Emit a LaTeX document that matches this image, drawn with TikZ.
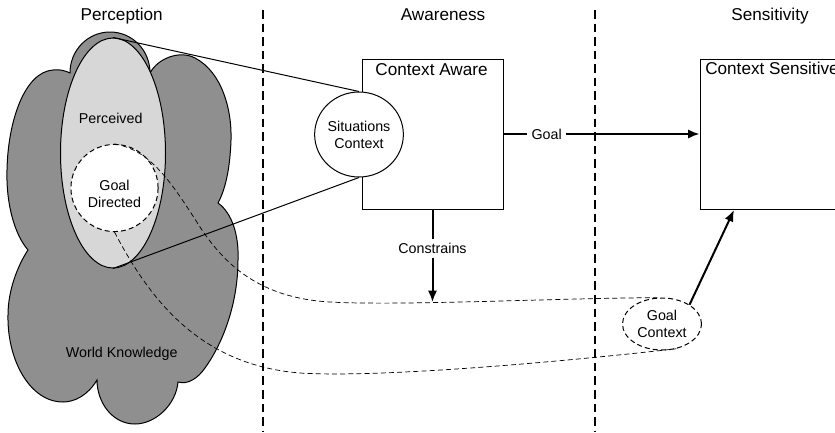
\documentclass[tikz,border=0pt]{standalone}
\usepackage{fontspec}
\setmainfont{Liberation Sans}
\usepackage{xcolor}
\usepackage{tikz}
\usetikzlibrary{shapes.geometric,arrows.meta}

\definecolor{cloudgray}{RGB}{143,143,143}
\definecolor{percgray}{RGB}{215,215,215}

\begin{document}
\begin{tikzpicture}[x=0.7pt,y=-0.7pt,
  hdr/.style={font=\fontsize{12}{14}\selectfont, anchor=base, inner sep=0pt},
  txt/.style={font=\fontsize{10}{12}\selectfont, align=center, inner sep=0pt},
  midtext/.style={font=\fontsize{10}{12}\selectfont, fill=white, inner sep=3pt},
  outline/.style={draw, line width=0.7pt, inner sep=0pt},
  boxnode/.style={outline, minimum width=98.7pt, minimum height=105pt},
  divider/.style={line width=1.1pt, dash pattern=on 6pt off 3.5pt},
  trace/.style={line width=0.5pt, dash pattern=on 3.5pt off 2.2pt},
  arr/.style={line width=1.4pt, -{Latex[length=8pt,width=6.5pt]}}]
\useasboundingbox (0,0) rectangle (835,432);
\clip (0,0) rectangle (835,432);

% world knowledge cloud
\draw[fill=cloudgray, line width=0.7pt] (70,73)
  .. controls (70,50) and (88,32) .. (110,32)
  .. controls (132,32) and (150,50) .. (150,73)
  .. controls (158,58) and (180,50) .. (195,58)
  .. controls (222,72) and (232,110) .. (231,140)
  .. controls (230,170) and (225,190) .. (218,203)
  .. controls (232,213) and (239,235) .. (238,260)
  .. controls (238,300) and (225,340) .. (205,368)
  .. controls (198,378) and (188,385) .. (178,382)
  .. controls (176,405) and (155,424) .. (135,424)
  .. controls (112,424) and (97,402) .. (97,380)
  .. controls (88,395) and (75,402) .. (63,402)
  .. controls (30,402) and (7,360) .. (8,315)
  .. controls (8,290) and (18,265) .. (28,250)
  .. controls (15,235) and (6,205) .. (7,170)
  .. controls (8,120) and (25,72) .. (53,70)
  .. controls (60,69) and (66,71) .. (70,73) -- cycle;

\node[outline, ellipse, fill=percgray, minimum width=73.5pt, minimum height=161pt] (perc) at (113,153) {};
\node[outline, circle, fill=white, dash pattern=on 3.5pt off 2.2pt, minimum size=61pt] (goaldir) at (114.5,188) {};

\node[txt, anchor=base] (perclbl) at (110.7,123.3) {Perceived};
\node[txt] (goaldirlbl) at (114.5,193.5) {Goal\\Directed};
\node[txt, anchor=base] (worldlbl) at (121.7,357) {World Knowledge};

% columns
\node[hdr] (tperc) at (121.7,20.7) {Perception};
\node[hdr] (taware) at (443,20.7) {Awareness};
\node[hdr] (tsens) at (770,20.7) {Sensitivity};

\draw[divider] (263,10) -- (263,432);
\draw[divider] (595,10) -- (595,432);

% awareness and sensitivity
\node[boxnode] (aware) at (432.5,134) {};
\node[hdr] (awarelbl) at (431.5,75) {Context Aware};
\node[outline, ellipse, fill=white, txt, minimum width=54.6pt, minimum height=59.5pt] (sit) at (359,134.5) {Situations\\Context};

\node[boxnode] (sens) at (770.5,134) {};
\node[hdr, anchor=base west] (senslbl) at (705,74.5) {Context Sensitive};

\node[outline, ellipse, fill=white, txt, dash pattern=on 3.5pt off 2.2pt, minimum width=55.3pt, minimum height=36.4pt] (gc) at (662,324) {Goal\\Context};

\draw[line width=0.7pt] (perc.north) -- (sit.north);
\draw[line width=0.7pt] (perc.south) -- (sit.south);

\draw[trace] (goaldir.north) .. controls (150,150) and (170,180) .. (200,227)
  .. controls (225,265) and (260,298) .. (330,302)
  .. controls (400,306) and (560,298) .. (gc.100);
\draw[trace] (goaldir.south) .. controls (150,300) and (200,365) .. (300,373)
  .. controls (380,378) and (560,362) .. (gc.-60);

\coordinate (consend) at (432.5,302);
\coordinate (sensin) at (734,210);
\draw[arr] (aware.east) -- node[pos=0.22, midtext] {Goal} (sens.west);
\draw[arr] (aware.south) -- node[pos=0.42, midtext] {Constrains} (consend);
\draw[arr] (gc.35) -- (sensin);

\end{tikzpicture}
\end{document}
